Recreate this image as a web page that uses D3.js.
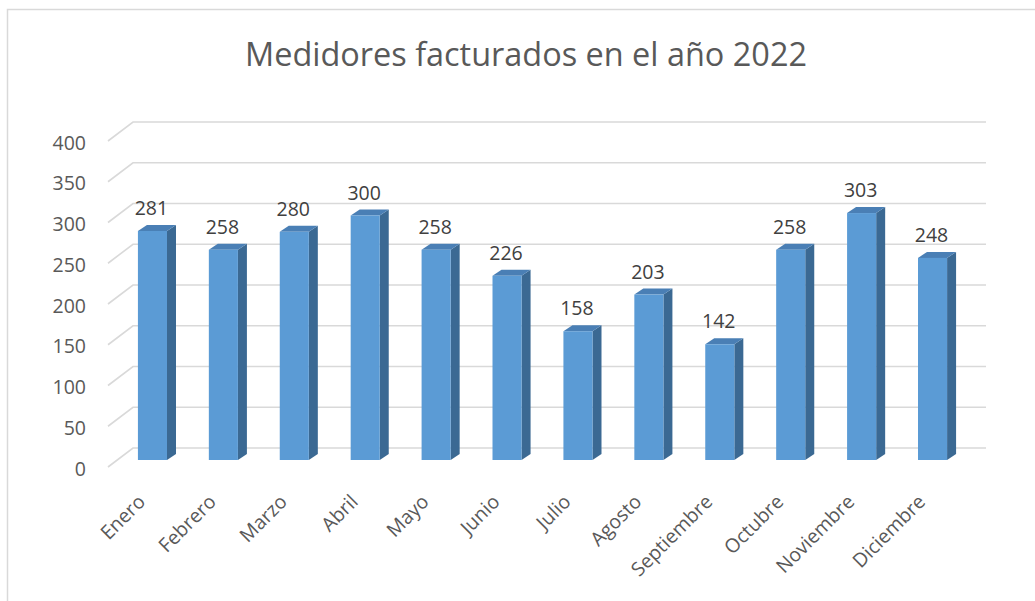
<!DOCTYPE html>
<html>
<head>
<meta charset="utf-8">
<script src="https://cdn.jsdelivr.net/npm/d3@7"></script>
<style>
    body { margin: 0; background: #fff; }
    svg { display: block; font-family: 'Open Sans', sans-serif; }
</style>
</head>
<body>
<svg id="chart"></svg>
<script>
const months = ['Enero', 'Febrero', 'Marzo', 'Abril', 'Mayo', 'Junio', 'Julio', 'Agosto', 'Septiembre', 'Octubre', 'Noviembre', 'Diciembre']
const values = [281, 258, 280, 300, 258, 226, 158, 203, 142, 258, 303, 248]
const yTicks = [0, 50, 100, 150, 200, 250, 300, 350, 400]
const title = 'Medidores facturados en el año 2022'

const width = 1035
const height = 601

// fake 3d: back wall, bar front face and floor front edge sit at different depths
const wallLeft = 133
const wallRight = 986
const floorDx = 25
const floorDy = 19
const barDy = 12
const sideDx = 9
const sideDy = 6

const svg = d3.select('#chart')
    .attr('width', width)
    .attr('height', height)

svg.append('rect')
    .attr('x', 7.5)
    .attr('y', 9.5)
    .attr('width', width + 20)
    .attr('height', height + 20)
    .attr('fill', 'none')
    .attr('stroke', '#d9d9d9')
    .attr('stroke-width', 1.5)

const x = d3.scaleBand()
    .domain(months)
    .range([117, 968])
    .paddingInner(0.59)
    .paddingOuter(0.295)

const y = d3.scaleLinear()
    .domain([0, 400])
    .range([448, 122])

// gridlines
const grid = svg.append('g')
grid.selectAll('path')
    .data(yTicks)
    .enter()
    .append('path')
    .attr('d', d => `M${wallLeft - floorDx},${y(d) + floorDy}L${wallLeft},${y(d)}L${wallRight},${y(d)}`)
    .attr('fill', 'none')
    .attr('stroke', '#d9d9d9')
    .attr('stroke-width', 1.6)

// y labels
svg.append('g')
    .selectAll('text')
    .data(yTicks)
    .enter()
    .append('text')
    .attr('x', 86)
    .attr('y', d => y(d) + floorDy + 8.5)
    .attr('text-anchor', 'end')
    .attr('font-size', 19.5)
    .attr('fill', '#595959')
    .text(d => d)

// bars
const bars = svg.append('g')
    .selectAll('g')
    .data(values)
    .enter()
    .append('g')

const barX0 = (d, i) => x(months[i])
const barX1 = (d, i) => x(months[i]) + x.bandwidth()
const barTop = d => y(d) + barDy
const barBase = y(0) + barDy

bars.append('path')
    .attr('d', (d, i) => `M${barX1(d, i)},${barTop(d)}L${barX1(d, i) + sideDx},${barTop(d) - sideDy}L${barX1(d, i) + sideDx},${barBase - sideDy}L${barX1(d, i)},${barBase}Z`)
    .attr('fill', '#3b6993')

bars.append('path')
    .attr('d', (d, i) => `M${barX0(d, i)},${barTop(d)}L${barX0(d, i) + sideDx},${barTop(d) - sideDy}L${barX1(d, i) + sideDx},${barTop(d) - sideDy}L${barX1(d, i)},${barTop(d)}Z`)
    .attr('fill', '#4a7fb5')

bars.append('rect')
    .attr('x', (d, i) => barX0(d, i))
    .attr('y', d => barTop(d))
    .attr('width', x.bandwidth())
    .attr('height', d => barBase - barTop(d))
    .attr('fill', '#5b9bd5')

// value labels
bars.append('text')
    .attr('x', (d, i) => barX0(d, i) + x.bandwidth() / 2 - 1)
    .attr('y', d => barTop(d) - 16)
    .attr('text-anchor', 'middle')
    .attr('font-size', 19.5)
    .attr('fill', '#404040')
    .text(d => d)

// month labels
svg.append('g')
    .selectAll('text')
    .data(months)
    .enter()
    .append('text')
    .attr('transform', d => `translate(${x(d) + x.bandwidth() / 2 - 6},${503}) rotate(-45)`)
    .attr('text-anchor', 'end')
    .attr('font-size', 19.5)
    .attr('fill', '#595959')
    .text(d => d)

// title
const t = svg.append('text')
    .attr('x', 526)
    .attr('y', 66)
    .attr('text-anchor', 'middle')
    .attr('font-size', 33)
    .attr('fill', '#595959')
    .text(title)

if (t.node().getComputedTextLength() > 562) {
    t.attr('textLength', 562).attr('lengthAdjust', 'spacingAndGlyphs')
}
</script>
</body>
</html>
